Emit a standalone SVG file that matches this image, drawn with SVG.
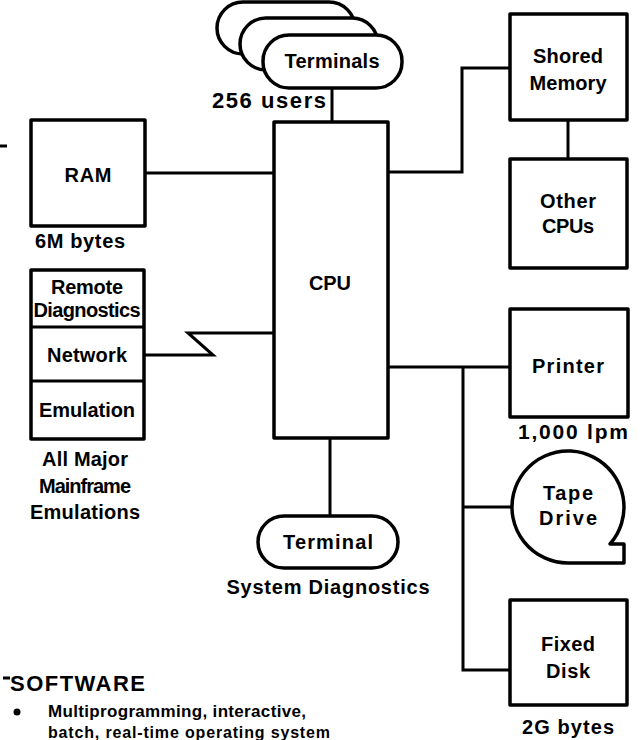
<svg xmlns="http://www.w3.org/2000/svg" width="642" height="740" viewBox="0 0 642 740">
<style>
.b{fill:#fff;stroke:#000;stroke-width:3.5;stroke-linejoin:round}
.c{fill:none;stroke:#000;stroke-width:3;stroke-linejoin:miter}
text{font-family:"Liberation Sans",Arial,sans-serif;font-weight:bold;font-size:20px;fill:#000}
.m{text-anchor:middle}
</style>
<rect width="642" height="740" fill="#fff"/>
<g id="connectors">
<path class="c" d="M332,88V122"/>
<path class="c" d="M145,173H274"/>
<path class="c" d="M144,355H213L188,333H274"/>
<path class="c" d="M388,172H462V68H510"/>
<path class="c" d="M568,120V159"/>
<path class="c" d="M388,367H510"/>
<path class="c" d="M463,367V670H510"/>
<path class="c" d="M463,507H512"/>
<path class="c" d="M330,438V516"/>
</g>
<g id="terminals">
<rect class="b" x="217" y="2" width="138" height="52" rx="26"/>
<rect class="b" x="240" y="18" width="138" height="52" rx="26"/>
<rect class="b" x="263" y="35" width="139" height="53" rx="26"/>
<text class="m" x="332" y="68" textLength="95">Terminals</text>
<text x="212" y="108" textLength="114" style="font-size:22px">256 users</text>
</g>
<g id="ram">
<rect class="b" x="31" y="120" width="114" height="106"/>
<text class="m" x="88" y="182" textLength="47">RAM</text>
<text class="m" x="80" y="248" textLength="90">6M bytes</text>
</g>
<g id="cpu">
<rect class="b" x="274" y="122" width="114" height="316"/>
<text class="m" x="330" y="290" textLength="42">CPU</text>
</g>
<g id="shared-memory">
<rect class="b" x="510" y="14" width="117" height="106"/>
<text class="m" x="568" y="63" textLength="70">Shored</text>
<text class="m" x="568" y="90" textLength="77">Memory</text>
</g>
<g id="other-cpus">
<rect class="b" x="510" y="159" width="117" height="109"/>
<text class="m" x="568" y="208" textLength="56">Other</text>
<text class="m" x="568" y="233" textLength="52">CPUs</text>
</g>
<g id="network-stack">
<rect class="b" x="31" y="270" width="113" height="169"/>
<path class="c" d="M31,327H144M31,381H144"/>
<text class="m" x="87" y="294" textLength="72">Remote</text>
<text class="m" x="87" y="317" textLength="107">Diagnostics</text>
<text class="m" x="87" y="362" textLength="80">Network</text>
<text class="m" x="87" y="417" textLength="96">Emulation</text>
<text class="m" x="85" y="466" textLength="86">All Major</text>
<text class="m" x="85" y="493" textLength="92">Mainframe</text>
<text class="m" x="85" y="519" textLength="110">Emulations</text>
</g>
<g id="printer">
<rect class="b" x="510" y="309" width="118" height="108"/>
<text class="m" x="568" y="373" textLength="72">Printer</text>
<text x="518" y="439" textLength="110" style="font-size:21px">1,000 lpm</text>
</g>
<g id="tape-drive">
<path class="b" d="M610,544A56,56 0 1,0 568,563H624V544Z"/>
<text class="m" x="568" y="500" textLength="50">Tape</text>
<text class="m" x="568" y="525" textLength="58">Drive</text>
</g>
<g id="terminal">
<rect class="b" x="258" y="516" width="140" height="52" rx="26"/>
<text class="m" x="328" y="549" textLength="90">Terminal</text>
<text class="m" x="328" y="594" textLength="203">System Diagnostics</text>
</g>
<g id="fixed-disk">
<rect class="b" x="510" y="600" width="117" height="105"/>
<text class="m" x="568" y="651" textLength="54">Fixed</text>
<text class="m" x="568" y="678" textLength="44">Disk</text>
<text class="m" x="568" y="734" textLength="92">2G bytes</text>
</g>
<g id="software">
<path class="c" d="M0,146H7M3,678H10"/>
<text x="10" y="691" textLength="135" style="font-size:22px">SOFTWARE</text>
<circle cx="17" cy="712" r="3.5" fill="#000"/>
<text x="48" y="717" textLength="258" style="font-size:17px">Multiprogramming, interactive,</text>
<text x="48" y="738" textLength="282" style="font-size:16px">batch, real-time operating system</text>
</g>
</svg>
